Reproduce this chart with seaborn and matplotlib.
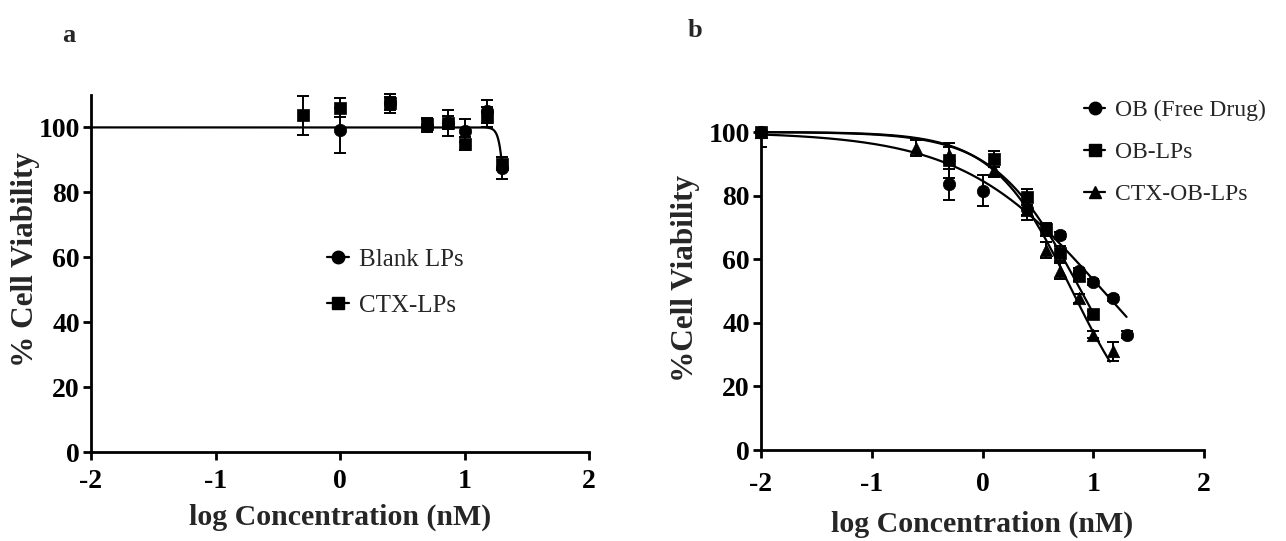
import matplotlib
matplotlib.use("Agg")
import matplotlib.pyplot as plt
from matplotlib.lines import Line2D
import numpy as np
import pandas as pd
import seaborn as sns

sns.set_theme(style="ticks")
plt.rcParams["font.family"] = ["Liberation Serif", "DejaVu Serif"]

# panel a: blank vs CTX liposomes
a_blank_x = [0.0, 0.4, 0.7, 0.87, 1.0, 1.18, 1.3]
a_blank_y = [99.1, 107.4, 100.5, 101.5, 99.0, 105.0, 87.5]
a_blank_sd = [7.0, 2.0, 2.0, 2.0, 3.5, 3.5, 3.5]

a_ctx_x = [-0.3, 0.0, 0.4, 0.7, 0.87, 1.0, 1.18, 1.3]
a_ctx_y = [103.7, 106.1, 107.4, 101.0, 101.4, 94.9, 103.2, 88.8]
a_ctx_sd = [6.0, 3.0, 3.0, 2.0, 4.0, 2.0, 3.0, 2.0]

# panel b: OB formulations
b_ob_x = [-2.0, -0.3, 0.0, 0.4, 0.7, 0.87, 1.0, 1.18, 1.3]
b_ob_y = [100.0, 83.5, 81.6, 75.9, 67.5, 56.2, 52.9, 47.9, 36.3]
b_ob_sd = [0.0, 5.0, 5.0, 2.0, 1.0, 1.0, 1.0, 1.0, 1.0]

b_lp_x = [-2.0, -0.3, 0.1, 0.4, 0.57, 0.7, 0.87, 1.0]
b_lp_y = [100.0, 91.1, 91.6, 79.7, 69.4, 61.8, 54.8, 42.8]
b_lp_sd = [4.8, 5.5, 2.5, 2.5, 2.0, 2.5, 1.5, 1.0]

b_ctx_x = [-2.0, -0.6, -0.3, 0.1, 0.4, 0.57, 0.7, 0.87, 1.0, 1.18]
b_ctx_y = [100.0, 94.9, 92.7, 87.9, 75.4, 62.9, 56.4, 47.7, 36.3, 31.1]
b_ctx_sd = [0.0, 2.5, 2.5, 2.0, 3.0, 2.5, 2.5, 1.5, 1.0, 3.0]

# fitted dose-response parameters (top, bottom, logIC50, hill, x range)
fit_a = (100, 0, 1.35, 18.0, -2.0, 1.3)
fit_b_ob = (100, 0, 1.09, 0.68, -2.0, 1.3)
fit_b_lp = (100, 0, 0.89, 1.12, -2.0, 1.0)
fit_b_ctx = (100, 0, 0.81, 1.22, -2.0, 1.15)

TICK_KW = dict(fontsize=20, fontweight="bold")
XLABEL_KW = dict(fontsize=21.5, fontweight="bold")
YLABEL_KW = dict(fontsize=22.5, fontweight="bold")


def fit_curve(params):
    top, bottom, log_ic50, hill, x0, x1 = params
    x = np.linspace(x0, x1, 400)
    y = bottom + (top - bottom) / (1 + 10 ** ((x - log_ic50) * hill))
    return pd.DataFrame({"x": x, "y": y})


def draw_series(ax, x, y, sd, marker, fit=None, clip_err=False):
    if fit is not None:
        sns.lineplot(data=fit_curve(fit), x="x", y="y", ax=ax, color="black",
                     linewidth=1.6, clip_on=False)
    ax.errorbar(x, y, yerr=sd, fmt="none", ecolor="black", elinewidth=1.4,
                capsize=4, capthick=1.4, clip_on=clip_err)
    sns.scatterplot(x=x, y=y, ax=ax, marker=marker, s=80, color="black",
                    edgecolor="black", linewidth=0.5, clip_on=False, zorder=5)


def style_axis(ax, ytop, ylabel, xpad, xlabel_y, ylabel_x):
    ax.set_xlim(-2, 2)
    ax.set_ylim(0, ytop)
    ax.set_xticks([-2, -1, 0, 1, 2])
    ax.set_yticks([0, 20, 40, 60, 80, 100])
    ax.set_xticklabels(["-2", "-1", "0", "1", "2"], **TICK_KW)
    ax.set_yticklabels(["0", "20", "40", "60", "80", "100"], **TICK_KW)
    ax.tick_params(width=2, length=6, direction="out", pad=2, colors="black")
    ax.tick_params(axis="x", pad=xpad)
    for side in ["left", "bottom"]:
        ax.spines[side].set_linewidth(2)
        ax.spines[side].set_color("black")
    sns.despine(ax=ax)
    ax.set_xlabel("log Concentration (nM)", va="center", **XLABEL_KW)
    ax.set_ylabel(ylabel, va="center", **YLABEL_KW)
    ax.xaxis.set_label_coords(0.5, xlabel_y)
    ax.yaxis.set_label_coords(ylabel_x, 0.54)


def legend_handles(labels, markers):
    return [Line2D([0], [0], color="black", marker=m, markersize=9, linewidth=1.6,
                   label=l) for l, m in zip(labels, markers)]


fig = plt.figure(figsize=(12.86, 5.41), dpi=100)
ax_a = fig.add_axes([0.0708, 0.1645, 0.3872, 0.66])
ax_b = fig.add_axes([0.5918, 0.1682, 0.3445, 0.5878])

# panel a
draw_series(ax_a, a_blank_x, a_blank_y, a_blank_sd, "o", fit=fit_a)
draw_series(ax_a, a_ctx_x, a_ctx_y, a_ctx_sd, "s")
style_axis(ax_a, 110, "% Cell Viability", xpad=6,
           xlabel_y=-(517 - 452) / 357, ylabel_x=(25 - 91) / 498)
ax_a.legend(handles=legend_handles(["Blank LPs", "CTX-LPs"], ["o", "s"]),
            loc="center left", bbox_to_anchor=(0.428, 0.475), frameon=False,
            fontsize=18, handlelength=0.9, handletextpad=0.4, labelspacing=0.95)

# panel b
draw_series(ax_b, b_ob_x, b_ob_y, b_ob_sd, "o", fit=fit_b_ob, clip_err=True)
draw_series(ax_b, b_lp_x, b_lp_y, b_lp_sd, "s", fit=fit_b_lp, clip_err=True)
draw_series(ax_b, b_ctx_x, b_ctx_y, b_ctx_sd, "^", fit=fit_b_ctx, clip_err=True)
style_axis(ax_b, 100, "%Cell Viability", xpad=10,
           xlabel_y=-(524 - 450) / 318, ylabel_x=(685 - 761) / 443)
ax_b.legend(handles=legend_handles(["OB (Free Drug)", "OB-LPs", "CTX-OB-LPs"],
                                   ["o", "s", "^"]),
            loc="upper left", bbox_to_anchor=(0.681, 1.168), frameon=False,
            fontsize=17, handlelength=0.9, handletextpad=0.4, labelspacing=0.86)

fig.text(69 / 1286, 1 - 42 / 541, "a", fontsize=19, fontweight="bold",
         ha="center", va="baseline")
fig.text(695 / 1286, 1 - 37 / 541, "b", fontsize=19, fontweight="bold",
         ha="center", va="baseline")

fig.savefig("out.png", dpi=100)
